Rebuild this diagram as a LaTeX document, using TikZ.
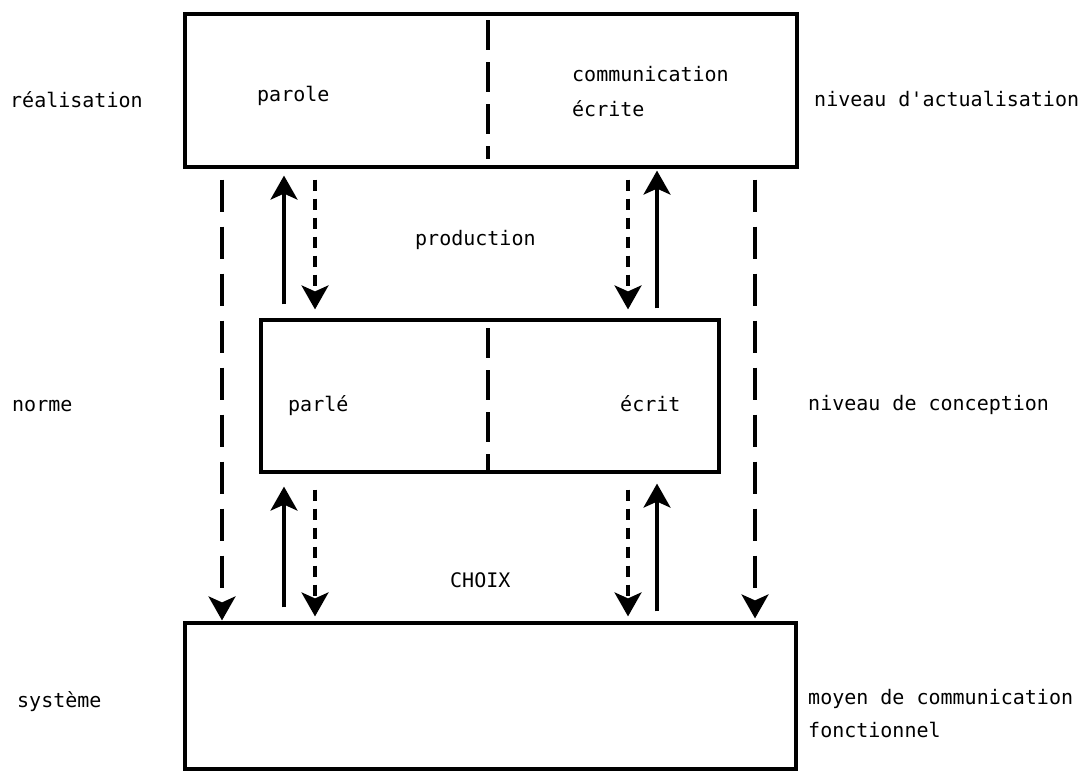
\documentclass[tikz,border=0pt]{standalone}
\usepackage{fontspec}
\setmonofont{DejaVu Sans Mono}
\usetikzlibrary{arrows.meta}
\begin{document}
\begin{tikzpicture}[x=1pt,y=-1pt,
  box/.style={draw,line width=3.2pt,minimum width=#1,inner sep=0pt},
  lbl/.style={anchor=base west,inner sep=0pt,font=\ttfamily\fontsize{20}{22}\selectfont},
  divider/.style={line width=3.2pt,dash pattern=on 30pt off 12pt},
  headtip/.style={-{Stealth[length=24pt,width=27pt,inset=6pt,fill=black]}},
  solidarr/.style={line width=3.2pt,headtip},
  outerdash/.style={line width=3.2pt,dash pattern=on 32pt off 15pt,headtip},
  innerdash/.style={line width=3.2pt,dash pattern=on 11pt off 8pt,headtip}]
\useasboundingbox (0,0) rectangle (1091,772);
% boxes
\node[box=612pt,minimum height=153pt] (top) at (491,90.5) {};
\node[box=458pt,minimum height=152pt] (mid) at (490,396) {};
\node[box=611pt,minimum height=146pt] (bot) at (490.5,696) {};
% dividers
\coordinate (xd) at (488,0);
\draw[divider] ([yshift=-8pt]top.north -| xd) -- ([yshift=10pt]top.south -| xd);
\draw[divider] ([yshift=-10pt]mid.north -| xd) -- ([yshift=2pt]mid.south -| xd);
% x positions
\coordinate (xo1) at (222,0);
\coordinate (xo2) at (755,0);
\coordinate (xs1) at (284,0);
\coordinate (xd1) at (315,0);
\coordinate (xd2) at (628,0);
\coordinate (xs2) at (657,0);
% outer dashed arrows
\draw[outerdash] ([yshift=-11pt]top.south -| xo1) -- ([yshift=1pt]bot.north -| xo1);
\draw[outerdash] ([yshift=-11pt]top.south -| xo2) -- ([yshift=3pt]bot.north -| xo2);
% upper arrows
\draw[solidarr] ([yshift=14pt]mid.north -| xs1) -- ([yshift=-7pt]top.south -| xs1);
\draw[innerdash] ([yshift=-11pt]top.south -| xd1) -- ([yshift=9pt]mid.north -| xd1);
\draw[innerdash] ([yshift=-11pt]top.south -| xd2) -- ([yshift=9pt]mid.north -| xd2);
\draw[solidarr] ([yshift=10pt]mid.north -| xs2) -- ([yshift=-2pt]top.south -| xs2);
% lower arrows
\draw[solidarr] ([yshift=14pt]bot.north -| xs1) -- ([yshift=-13pt]mid.south -| xs1);
\draw[innerdash] ([yshift=-16pt]mid.south -| xd1) -- ([yshift=5pt]bot.north -| xd1);
\draw[innerdash] ([yshift=-16pt]mid.south -| xd2) -- ([yshift=5pt]bot.north -| xd2);
\draw[solidarr] ([yshift=10pt]bot.north -| xs2) -- ([yshift=-10pt]mid.south -| xs2);
% labels
\node[lbl] (t1) at (10,107) {réalisation};
\node[lbl] (t2) at (257,101) {parole};
\node[lbl] (t3) at (572,81) {communication};
\node[lbl] (t4) at (572,116) {écrite};
\node[lbl] (t5) at (814,106) {niveau d'actualisation};
\node[lbl] (t6) at (415,245) {production};
\node[lbl] (t7) at (12,411) {norme};
\node[lbl] (t8) at (288,411) {parlé};
\node[lbl] (t9) at (620,411) {écrit};
\node[lbl] (t10) at (808,410) {niveau de conception};
\node[lbl] (t11) at (450,587) {CHOIX};
\node[lbl] (t12) at (17,707) {système};
\node[lbl] (t13) at (808,704) {moyen de communication};
\node[lbl] (t14) at (808,737) {fonctionnel};
\end{tikzpicture}
\end{document}
